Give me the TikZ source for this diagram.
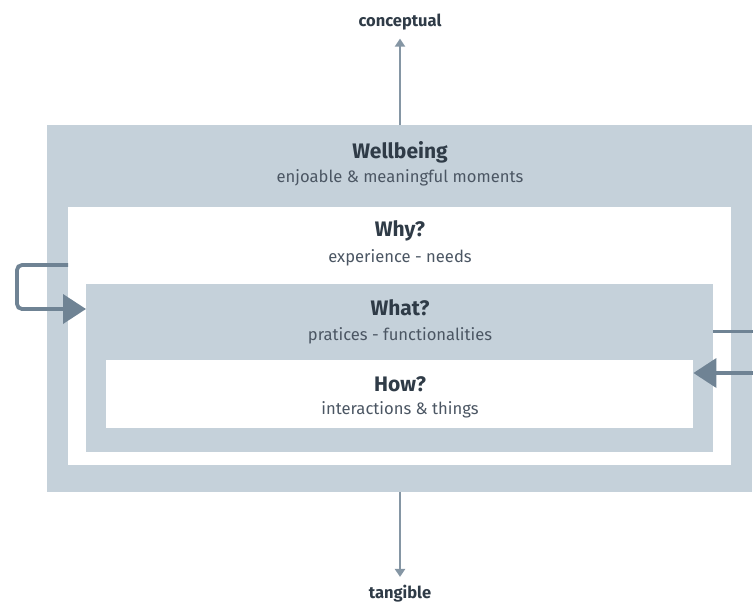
\documentclass[tikz,border=0pt]{standalone}
\usepackage{fontspec}
\setmainfont{Fira Sans}
\usetikzlibrary{arrows.meta}
\definecolor{panel}{HTML}{C5D1DA}
\definecolor{ink}{HTML}{2F3B47}
\definecolor{subink}{HTML}{4B5663}
\definecolor{arrowc}{HTML}{6F8394}
\tikzset{
  layer/.style={draw=none, minimum width=#1, inner sep=0pt, anchor=north west},
  filled/.style={fill=panel},
  blank/.style={fill=white},
  title/.style={font=\bfseries\fontsize{21}{23}\selectfont, text=ink},
  subtitle/.style={font=\fontsize{16.6}{18}\selectfont, text=subink},
  axis label/.style={font=\bfseries\fontsize{16.5}{18}\selectfont, text=ink},
  axis arrow/.style={draw=arrowc!85!white, line width=2.6pt, -{Triangle[width=10pt,length=8pt]}},
  flow/.style={draw=arrowc, line width=3.8pt, -{Triangle[width=29pt,length=23pt]}},
  tie/.style={draw=arrowc, line width=3pt}
}
\begin{document}
\begin{tikzpicture}[x=1pt,y=-1pt]
\useasboundingbox (0,0) rectangle (753,603);
% nested layers
\node[filled, layer=705pt, minimum height=367pt] (wellbeing) at (47,125) {};
\node[blank, layer=663pt, minimum height=258pt] (why) at (68,207) {};
\node[filled, layer=627pt, minimum height=168pt] (what) at (86,284) {};
\node[blank, layer=587pt, minimum height=68pt] (how) at (106,360) {};
% layer texts
\node[title] (t1) at (400,152) {Wellbeing};
\node[subtitle] (s1) at (400,178) {enjoable \& meaningful moments};
\node[title] (t2) at (400,231) {Why?};
\node[subtitle] (s2) at (400,258) {experience - needs};
\node[title] (t3) at (400,308) {What?};
\node[subtitle] (s3) at (400,336) {pratices - functionalities};
\node[title] (t4) at (400,384) {How?};
\node[subtitle] (s4) at (400,410) {interactions \& things};
% axis
\node[axis label] (up) at (400,22) {conceptual};
\node[axis label] (down) at (400,594) {tangible};
\draw[axis arrow] (wellbeing.north -| up.south) -- ([yshift=-5pt]up.south);
\draw[axis arrow] (wellbeing.south -| down.north) -- ([yshift=5pt]down.north);
% loop from why into what
\draw[flow, rounded corners=5pt] (why.west |- 0,265) -- (17,265) |- (what.west |- 0,309);
% links on the right side
\coordinate (edgeA) at (753,331);
\coordinate (edgeB) at (753,373);
\draw[tie] (what.east |- edgeA) -- (edgeA);
\draw[flow] (edgeB) -- (how.east |- edgeB);
\end{tikzpicture}
\end{document}
